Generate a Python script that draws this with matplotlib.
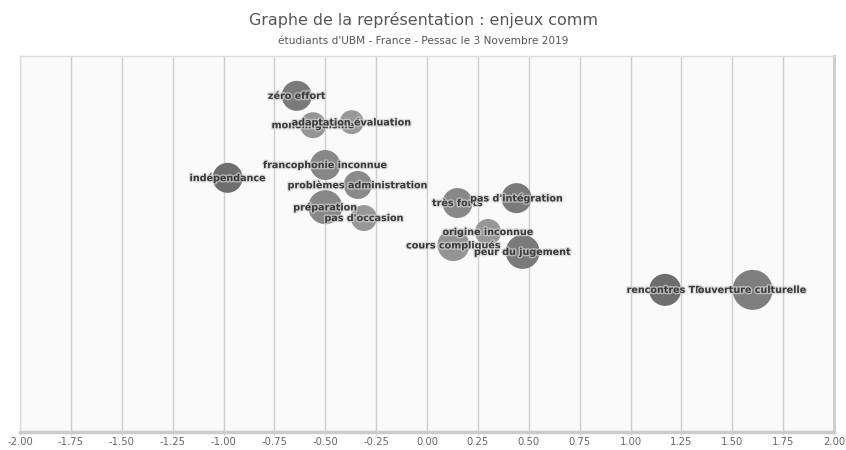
import matplotlib.pyplot as plt
import matplotlib.patheffects as pe
import numpy as np

TITLE = "Graphe de la représentation : enjeux comm"
SUBTITLE = "étudiants d'UBM - France - Pessac le 3 Novembre 2019"

labels = [
    "zéro effort", "monolinguisme", "adaptation évaluation", "francophonie inconnue",
    "indépendance", "problèmes administration", "préparation", "pas d'occasion",
    "très forts", "pas d'intégration", "origine inconnue", "cours compliqués",
    "peur du jugement", "rencontres TD", "ouverture culturelle",
]
x_vals = [-0.64, -0.56, -0.37, -0.50, -0.98, -0.34, -0.50, -0.31,
          0.15, 0.44, 0.30, 0.13, 0.47, 1.17, 1.60]
y_vals = [8.94, 8.16, 8.24, 7.10, 6.76, 6.57, 5.98, 5.69,
          6.09, 6.22, 5.32, 4.97, 4.79, 3.78, 3.78]
# bubble radius (pixels in the reference)
radius = [15, 13, 12, 15, 15, 14, 17, 13, 15, 15, 13, 16, 17, 16, 20]
shade = ["#7a7a7a", "#959595", "#999999", "#878787", "#6e6e6e", "#8a8a8a", "#878787",
         "#979797", "#888888", "#7a7a7a", "#979797", "#949494", "#7a7a7a", "#6e6e6e", "#7e7e7e"]

x_ticks = np.arange(-2.0, 2.01, 0.25)

fig = plt.figure(figsize=(8.46, 4.5), dpi=100)
ax = fig.add_axes([20 / 846, 1 - 432 / 450, 814 / 846, 376 / 450])
ax.set_facecolor("#fafafa")

sizes = [(1.44 * r) ** 2 for r in radius]
ax.scatter(x_vals, y_vals, s=sizes, c=shade, edgecolors="none", zorder=3)

for lab, x, y in zip(labels, x_vals, y_vals):
    ax.text(x, y, lab, ha="center", va="center", fontsize=6.9, fontweight="bold",
            color="#3a3a3a", zorder=4,
            path_effects=[pe.withStroke(linewidth=2, foreground="#d4d4d4", alpha=0.7)])

ax.set_xlim(-2, 2)
ax.set_ylim(0, 10)
ax.set_xticks(x_ticks)
ax.set_xticklabels([f"{t:.2f}" for t in x_ticks], fontsize=7.2, color="#666666",
                   family=["Liberation Sans Narrow", "DejaVu Sans"])
ax.set_yticks([])
ax.grid(axis="x", color="#cfcfcf", linewidth=1, zorder=1)
ax.tick_params(axis="x", length=2, color="#cccccc", pad=1.5)

for side in ["top", "right", "left"]:
    ax.spines[side].set_color("#dddddd")
    ax.spines[side].set_linewidth(1)
ax.spines["right"].set_color("#cccccc")
ax.spines["right"].set_linewidth(2)
ax.spines["bottom"].set_color("#cccccc")
ax.spines["bottom"].set_linewidth(2.5)

fig.text(0.5, 1 - 20 / 450, TITLE, ha="center", va="center", fontsize=11.4, color="#555555")
fig.text(0.5, 1 - 41 / 450, SUBTITLE, ha="center", va="center", fontsize=7.6, color="#555555")

fig.savefig("out.png", dpi=100, facecolor="white")
